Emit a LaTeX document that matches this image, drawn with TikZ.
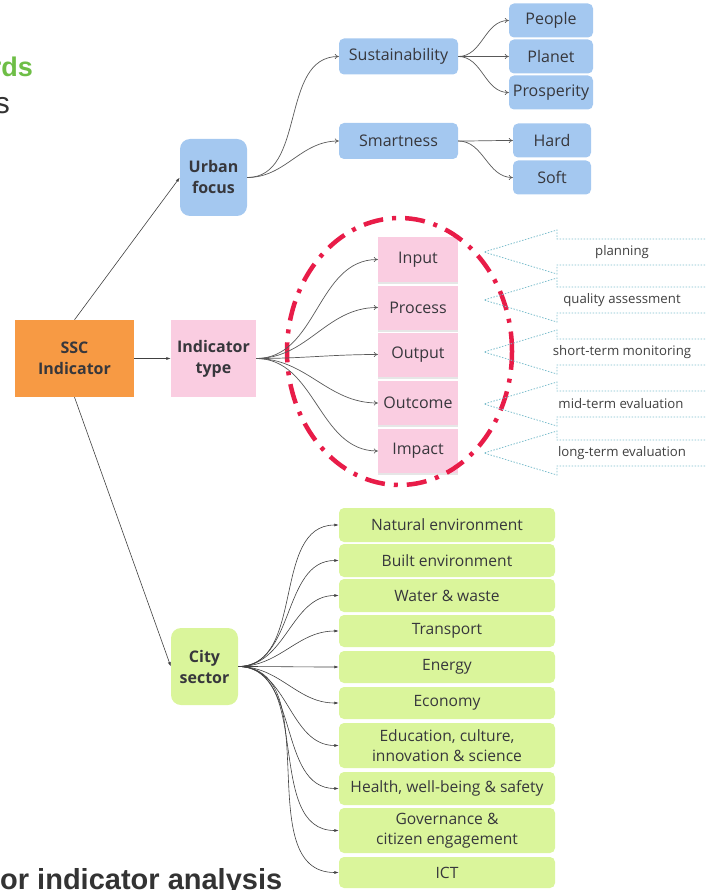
\documentclass[tikz,border=0pt]{standalone}
\usepackage{fontspec}
\setmainfont{Open Sans}
\newfontfamily\slidefont{Liberation Sans}
\usetikzlibrary{arrows.meta,positioning,shadows}

\definecolor{sscorange}{RGB}{247,154,68}
\definecolor{typepink}{RGB}{250,205,225}
\definecolor{urbanblue}{RGB}{164,200,240}
\definecolor{citygreen}{RGB}{218,245,155}
\definecolor{ringred}{RGB}{232,28,72}
\definecolor{calloutteal}{RGB}{125,190,205}
\definecolor{labelgray}{RGB}{55,55,60}
\definecolor{titlegreen}{RGB}{110,190,70}

\begin{document}
\begin{tikzpicture}[x=1pt,y=-1pt,
every node/.style={text=labelgray,align=center,inner sep=0pt,font=\fontsize{16}{19}\selectfont},
bigbox/.style={minimum height=77pt,font=\bfseries\fontsize{16}{21}\selectfont},
bluebox/.style={fill=urbanblue,rounded corners=5pt,minimum height=34pt},
note/.style={fill=typepink,minimum width=80pt,minimum height=44pt,
  drop shadow={shadow xshift=0pt,shadow yshift=-2pt,opacity=.2}},
sector/.style={fill=citygreen,rounded corners=5pt,minimum width=216pt,minimum height=32pt,font=\fontsize{15.6}{20}\selectfont},
stage/.style={font=\fontsize{13.2}{15}\selectfont,text=black!75},
fork/.style={draw=black!65,line width=.7pt,-{To[length=4pt,width=5pt]}},
spoke/.style={draw=black!75,line width=.6pt,-{Latex[length=4.5pt,width=3pt]}},
callout/.style={draw=calloutteal,line width=.8pt,dash pattern=on 1.5pt off 1.5pt},
ring/.style={draw=ringred,line width=4.5pt,dash pattern=on 20pt off 9pt on 4pt off 9pt}]
\clip (0,0) rectangle (706,890);

% slide fragments
\node[font=\slidefont\bfseries\fontsize{27}{30}\selectfont,text=titlegreen,anchor=base east] (Head) at (33,77) {rds};
\node[font=\slidefont\fontsize{30}{32}\selectfont,text=black!80,anchor=base east] (Sub) at (10,114) {s};
\node[font=\slidefont\bfseries\fontsize{29}{32}\selectfont,text=black!80,anchor=base west] (Foot) at (0,889) {or indicator analysis};

% main boxes
\node[bigbox,fill=sscorange,minimum width=119pt] (SSC) at (74.5,358.5) {SSC\\Indicator};
\node[bigbox,fill=typepink,minimum width=85pt] (Type) at (213.5,358.5) {Indicator\\type};
\node[bigbox,fill=urbanblue,rounded corners=10pt,minimum width=67pt] (Urban) at (213.5,177.5) {Urban\\focus};
\node[bigbox,fill=citygreen,rounded corners=10pt,minimum width=67pt] (City) at (204.5,666.5) {City\\sector};

% urban focus
\node[bluebox,minimum width=119pt,minimum height=36pt] (Sus) at (398.5,56.5) {Sustainability};
\node[bluebox,minimum width=119pt,minimum height=36pt] (Smart) at (398.5,141) {Smartness};
\node[bluebox,minimum width=84pt] (People) at (551,20.5) {People};
\node[bluebox,minimum width=84pt] (Planet) at (551,56.5) {Planet};
\node[bluebox,minimum width=84pt] (Prosp) at (551,92.5) {Prosperity};
\node[bluebox,minimum width=78pt] (Hard) at (552,140.5) {Hard};
\node[bluebox,minimum width=78pt] (Soft) at (552,177.5) {Soft};

% indicator type
\node[note] (Input) at (418,259.5) {Input};
\node[note] (Process) at (418,307.5) {Process};
\node[note] (Output) at (418,354.5) {Output};
\node[note] (Outcome) at (418,403) {Outcome};
\node[note] (Impact) at (418,451) {Impact};
\draw[ring] (399.5,351.5) ellipse [x radius=112.5pt,y radius=133.5pt];

% evaluation stages
\draw[callout] (720,239) -- (557,239) -- (557,230) -- (484,252) -- (557,274) -- (557,265) -- (720,265);
\draw[callout] (720,287) -- (557,287) -- (557,278) -- (484,300) -- (557,322) -- (557,313) -- (720,313);
\draw[callout] (720,339) -- (557,339) -- (557,330) -- (484,352) -- (557,374) -- (557,365) -- (720,365);
\draw[callout] (720,391) -- (557,391) -- (557,382) -- (484,404) -- (557,426) -- (557,417) -- (720,417);
\draw[callout] (720,440) -- (557,440) -- (557,431) -- (484,453) -- (557,475) -- (557,466) -- (720,466);
\node[stage] (Plan) at (622,252) {planning};
\node[stage] (Quality) at (622,300) {quality assessment};
\node[stage] (Short) at (622,352) {short-term monitoring};
\node[stage] (Mid) at (621,404) {mid-term evaluation};
\node[stage] (Long) at (622,453) {long-term evaluation};

% city sector
\node[sector,minimum height=34pt] (Nat) at (447,525) {Natural environment};
\node[sector,minimum height=33pt] (Built) at (447,560.5) {Built environment};
\node[sector,minimum height=33pt] (Water) at (447,595.5) {Water \& waste};
\node[sector] (Trans) at (447,631) {Transport};
\node[sector] (Energy) at (447,667) {Energy};
\node[sector] (Econ) at (447,703) {Economy};
\node[sector,minimum height=45pt] (Edu) at (447,745.5) {Education, culture,\\innovation \& science};
\node[sector,minimum height=33pt] (Health) at (447,788.5) {Health, well-being \& safety};
\node[sector,minimum height=45pt] (Gov) at (447,830.5) {Governance \&\\citizen engagement};
\node[sector,minimum height=31pt] (ICT) at (447,872.5) {ICT};

% connectors
\draw[spoke] (SSC.north) -- (Urban.west);
\draw[spoke] (SSC.east) -- (Type.west);
\draw[spoke] (SSC.south) -- (City.west);
\draw[fork] (Urban.east) to[out=0,in=180] (Sus.west);
\draw[fork] (Urban.east) to[out=0,in=180] (Smart.west);
\draw[fork] (Sus.east) to[out=0,in=180] (People.west);
\draw[fork] (Sus.east) to[out=0,in=180] (Planet.west);
\draw[fork] (Sus.east) to[out=0,in=180] (Prosp.west);
\draw[fork] (Smart.east) to[out=0,in=180] (Hard.west);
\draw[fork] (Smart.east) to[out=0,in=180] (Soft.west);
\draw[fork] (Type.east) to[out=0,in=180] (Input.west);
\draw[fork] (Type.east) to[out=0,in=180] (Process.west);
\draw[fork] (Type.east) to[out=0,in=180] (Output.west);
\draw[fork] (Type.east) to[out=0,in=180] (Outcome.west);
\draw[fork] (Type.east) to[out=0,in=180] (Impact.west);
\draw[spoke] (City.east) to[out=0,in=180] (Nat.west);
\draw[spoke] (City.east) to[out=0,in=180] (Built.west);
\draw[spoke] (City.east) to[out=0,in=180] (Water.west);
\draw[spoke] (City.east) to[out=0,in=180] (Trans.west);
\draw[spoke] (City.east) to[out=0,in=180] (Energy.west);
\draw[spoke] (City.east) to[out=0,in=180] (Econ.west);
\draw[spoke] (City.east) to[out=0,in=180] (Edu.west);
\draw[spoke] (City.east) to[out=0,in=180] (Health.west);
\draw[spoke] (City.east) to[out=0,in=180] (Gov.west);
\draw[spoke] (City.east) to[out=0,in=180] (ICT.west);
\end{tikzpicture}
\end{document}
